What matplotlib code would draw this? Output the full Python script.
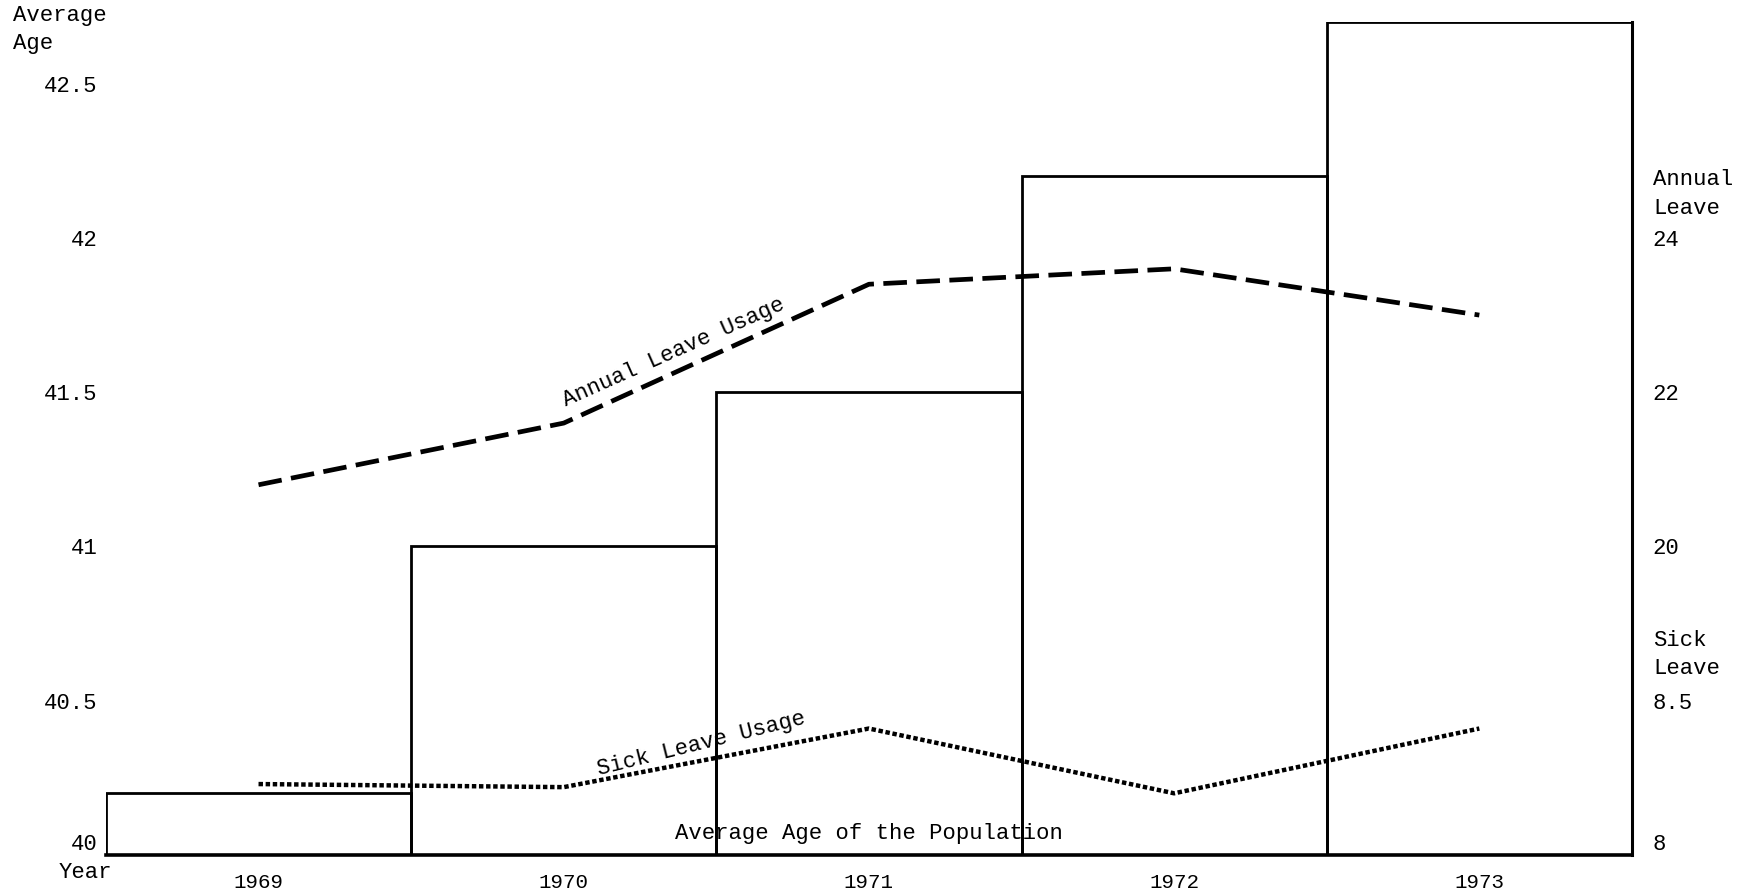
import matplotlib
matplotlib.use("Agg")
import matplotlib.pyplot as plt
import matplotlib.transforms as mtransforms

years = [1969, 1970, 1971, 1972, 1973]
average_age = [40.2, 41.0, 41.5, 42.2, 42.7]
annual_leave = [20.8, 21.6, 23.4, 23.6, 23.0]
sick_leave = [8.23, 8.22, 8.41, 8.2, 8.41]

age_ticks = [40, 40.5, 41, 41.5, 42, 42.5]
age_labels = ["40", "40.5", "41", "41.5", "42", "42.5"]
annual_ticks = [20, 22, 24]
sick_ticks = [8, 8.5]
sick_labels = ["8", "8.5"]

plt.rcParams["font.family"] = ["Liberation Mono", "DejaVu Sans Mono"]

fig = plt.figure(figsize=(17.48, 8.94), dpi=100)
ax = fig.add_axes([0.0606, 0.0436, 0.873, 0.9318])

# average age as outlined step bars
ax.bar(years, average_age, width=1.0, facecolor="none", edgecolor="black", linewidth=2.0)
ax.set_xlim(1968.5, 1973.5)
ax.set_ylim(40, 42.7)
ax.set_xticks(years)
ax.set_yticks(age_ticks, labels=age_labels)
ax.tick_params(axis="x", length=0, pad=13, labelsize=15)
ax.tick_params(axis="y", length=0, pad=6, labelsize=16)
ax.yaxis.get_major_ticks()[0].label1.set_verticalalignment("bottom")
ax.spines["left"].set_visible(False)
ax.spines["top"].set_visible(False)
ax.spines["bottom"].set_linewidth(2.6)
ax.spines["right"].set_linewidth(2.2)

# annual leave on its own right-hand scale
ax_a = ax.twinx()
ax_a.set_ylim(16, 26.8)
ax_a.plot(years, annual_leave, color="black", linewidth=3.4, linestyle=(0, (5, 2)),
          dash_capstyle="butt")
ax_a.set_yticks(annual_ticks)
ax_a.tick_params(axis="y", length=0, pad=15, labelsize=16)

# sick leave on a second right-hand scale
ax_s = ax.twinx()
ax_s.set_ylim(8, 10.7)
ax_s.plot(years, sick_leave, color="black", linewidth=3.2, linestyle=(0, (1, 0.6)),
          dash_capstyle="butt")
ax_s.set_yticks(sick_ticks, labels=sick_labels)
ax_s.tick_params(axis="y", length=0, pad=15, labelsize=16)
ax_s.yaxis.get_major_ticks()[0].label2.set_verticalalignment("bottom")

for twin in (ax_a, ax_s):
    for spine in twin.spines.values():
        spine.set_visible(False)

# axis headings
fig.text(13 / 1748, 1 - 5 / 894, "Average\nAge", ha="left", va="top", fontsize=16,
         linespacing=1.45)
fig.text(85 / 1748, 1 - 872 / 894, "Year", ha="center", va="center", fontsize=16)

trans_a = mtransforms.blended_transform_factory(ax_a.transAxes, ax_a.transData)
ax_a.text(1.0138, 24.57, "Annual\nLeave", transform=trans_a, ha="left", va="center",
          fontsize=16, linespacing=1.45)
trans_s = mtransforms.blended_transform_factory(ax_s.transAxes, ax_s.transData)
ax_s.text(1.0138, 8.65, "Sick\nLeave", transform=trans_s, ha="left", va="center",
          fontsize=16, linespacing=1.45)

# in-plot labels for each series
ax.text(1971, 40.07, "Average Age of the Population", ha="center", va="center", fontsize=16)
ax.text(1970.36, 41.63, "Annual Leave Usage", ha="center", va="center", fontsize=16,
        rotation=24, rotation_mode="anchor")
ax.text(1970.45, 40.36, "Sick Leave Usage", ha="center", va="center", fontsize=16,
        rotation=14, rotation_mode="anchor")

fig.savefig("out.png", dpi=100, facecolor="white")
